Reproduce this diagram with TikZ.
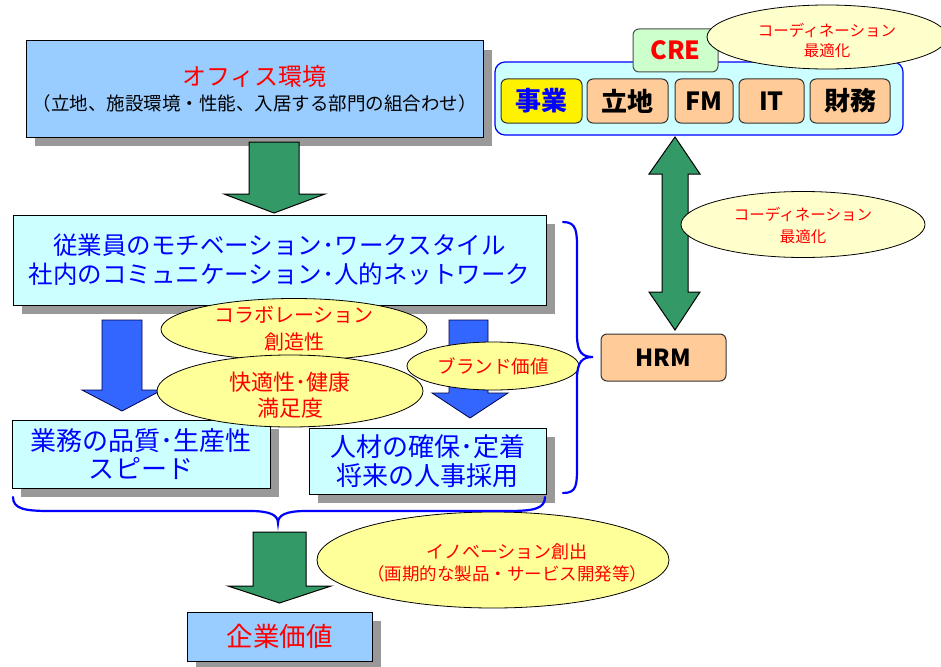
\documentclass[tikz,border=0pt]{standalone}
\usepackage{fontspec}
\setmainfont{Noto Sans CJK JP}
\usetikzlibrary{shadows,shapes.geometric}
\definecolor{lblue}{HTML}{99CCFF}
\definecolor{lcyan}{HTML}{CCFFFF}
\definecolor{sgray}{HTML}{999999}
\definecolor{agreen}{HTML}{339966}
\definecolor{ablue}{HTML}{3366FF}
\definecolor{eyel}{HTML}{FFFF99}
\definecolor{eyel2}{HTML}{FFFFCC}
\definecolor{peach}{HTML}{FFCC99}
\definecolor{lgreen}{HTML}{CCFFCC}
\definecolor{tblue}{HTML}{0000FF}
\definecolor{tred}{HTML}{FF0000}
\newcommand{\fs}[2]{\fontsize{#1}{#2}\selectfont}
\tikzset{
  shbox/.style={draw=black, line width=1pt, drop shadow={shadow xshift=9pt, shadow yshift=-9pt, fill=sgray, opacity=1}},
  officebox/.style={shbox, fill=lblue, inner sep=0pt},
  cyanbox/.style={shbox, fill=lcyan, inner sep=0pt, text=tblue, align=center},
  ell/.style={ellipse, draw=black, line width=0.8pt, fill=eyel, inner sep=0pt},
  ell2/.style={ellipse, draw=black, line width=0.8pt, fill=eyel2, inner sep=0pt},
  etext/.style={text=tred, align=center, inner sep=0pt},
  garrow/.style={draw=black, line width=1pt, fill=agreen},
  barrow/.style={draw=black!70!blue, line width=0.8pt, fill=ablue},
  brace/.style={draw=tblue, line width=2.2pt, line cap=round},
  pbox/.style={draw=black!80, line width=1pt, fill=peach, rounded corners=6pt, inner sep=0pt, font=\fs{26}{26}\bfseries},
}
\begin{document}
\begin{tikzpicture}[x=1pt,y=-1pt]
\useasboundingbox (0,0) rectangle (941,666);

% ---------- left column boxes ----------
\node[officebox, minimum width=457pt, minimum height=96pt] (office) at (254.5,89) {};
\node[text=tred, font=\fs{24}{24}] (officeT) at (254.5,76) {オフィス環境};
\node[font=\fs{18.5}{18.5}] (officeS) at (254.5,103.5) {（立地、施設環境・性能、入居する部門の組合わせ）};

\node[cyanbox, minimum width=533pt, minimum height=90pt, font=\fs{24.5}{29}] (emp) at (279.5,260)
  {従業員のモチベーション･ワークスタイル\\社内のコミュニケーション･人的ネットワーク};

\node[cyanbox, minimum width=258pt, minimum height=68pt, font=\fs{26}{28}] (quality) at (141,454)
  {業務の品質･生産性\\スピード};
\node[cyanbox, minimum width=237pt, minimum height=66pt, font=\fs{26}{29}] (talent) at (427.5,461)
  {人材の確保･定着\\将来の人事採用};

\node[officebox, minimum width=185pt, minimum height=49pt, text=tred, font=\fs{26.5}{26.5}] (value) at (279.5,636.5) {企業価値};

% ---------- green arrows ----------
\draw[garrow] (249,142) -- (299,142) -- (299,194) -- (325,194) -- (274,213) -- (224,194) -- (249,194) -- cycle;
\draw[garrow] (253,532) -- (306,532) -- (306,586) -- (331,586) -- (279.5,603) -- (228,586) -- (253,586) -- cycle;

% ---------- blue arrows ----------
\draw[barrow] (102,320) -- (142,320) -- (142,390) -- (162,390) -- (122,411) -- (82,390) -- (102,390) -- cycle;
\draw[barrow] (449,320) -- (488,320) -- (488,393) -- (508,393) -- (470,418) -- (432,393) -- (449,393) -- cycle;

% ---------- ellipses ----------
\node[ell, minimum width=266pt, minimum height=62pt] (collab) at (294,329.5) {};
\node[etext, font=\fs{20}{27}] (collabT) at (294,329) {コラボレーション\\創造性};
\node[ell, minimum width=266pt, minimum height=72pt] (comfort) at (290,391) {};
\node[etext, font=\fs{22}{26}] (comfortT) at (290,395) {快適性･健康\\満足度};
\node[ell, minimum width=172pt, minimum height=48pt] (brand) at (493,366) {};
\node[etext, font=\fs{18.5}{18.5}] (brandT) at (493,366) {ブランド価値};
\node[ell, minimum width=352pt, minimum height=96pt] (innov) at (493,560) {};
\node[etext, font=\fs{18}{22}] (innovT) at (507,562.5)
  {イノベーション創出\\{\fs{17.5}{22}（画期的な製品・サービス開発等）}};

% ---------- braces ----------
\coordinate (rbTop) at (563,222);
\coordinate (rbTip) at (593,357);
\coordinate (rbBot) at (563,493);
\draw[brace] (rbTop) .. controls (577,222) and (577,232) .. (577,250) -- (577,335)
  .. controls (577,352) and (582,357) .. (rbTip)
  .. controls (582,357) and (577,362) .. (577,379) -- (577,465)
  .. controls (577,485) and (577,493) .. (rbBot);
\coordinate (bbL) at (13,497);
\coordinate (bbTip) at (278,523);
\coordinate (bbR) at (545,497);
\draw[brace] (bbL) .. controls (13,509) and (25,511) .. (50,511) -- (250,511)
  .. controls (270,511) and (278,515) .. (bbTip)
  .. controls (278,515) and (286,511) .. (306,511) -- (508,511)
  .. controls (533,511) and (545,509) .. (bbR);

% ---------- right part ----------
\node[draw=tblue, line width=1.2pt, fill=lcyan, rounded corners=10pt, minimum width=408pt, minimum height=73pt, inner sep=0pt] (cre) at (699,98.5) {};
\node[draw=black!70, line width=1pt, fill=lgreen, rounded corners=6pt, minimum width=85pt, minimum height=43pt, inner sep=0pt, text=tred, font=\fs{25}{25}\bfseries] (crel) at (675.5,50.5) {CRE};
\node[ell2, minimum width=240pt, minimum height=64pt] (creell) at (827,37) {};
\node[etext, font=\fs{15.5}{19.5}] (creellT) at (827,40.5) {コーディネーション\\最適化};

\node[pbox, fill=yellow, text=tblue, minimum width=81pt, minimum height=44pt] (biz) at (541.5,101) {事業};
\node[pbox, minimum width=81pt, minimum height=44pt] (loc) at (627.5,101) {立地};
\node[pbox, minimum width=58pt, minimum height=44pt, font=\fs{25}{25}\bfseries] (fm) at (704,101) {FM};
\node[pbox, minimum width=65pt, minimum height=44pt, font=\fs{25}{25}\bfseries] (it) at (771.5,101) {IT};
\node[pbox, minimum width=80pt, minimum height=44pt] (fin) at (850,101) {財務};

\node[pbox, minimum width=125pt, minimum height=47pt, font=\fs{23.5}{23.5}\bfseries] (hrm) at (663.5,357.5) {HRM};

% double arrow between CRE block and HRM
\draw[garrow] (675,137) -- (700,174) -- (688,174) -- (688,292) -- (700,292) -- (675,330)
  -- (649,292) -- (662,292) -- (662,174) -- (649,174) -- cycle;

\node[ell2, minimum width=244pt, minimum height=66pt] (coord) at (803,224.5) {};
\node[etext, font=\fs{15.5}{22}] (coordT) at (803,226) {コーディネーション\\最適化};
\end{tikzpicture}
\end{document}
